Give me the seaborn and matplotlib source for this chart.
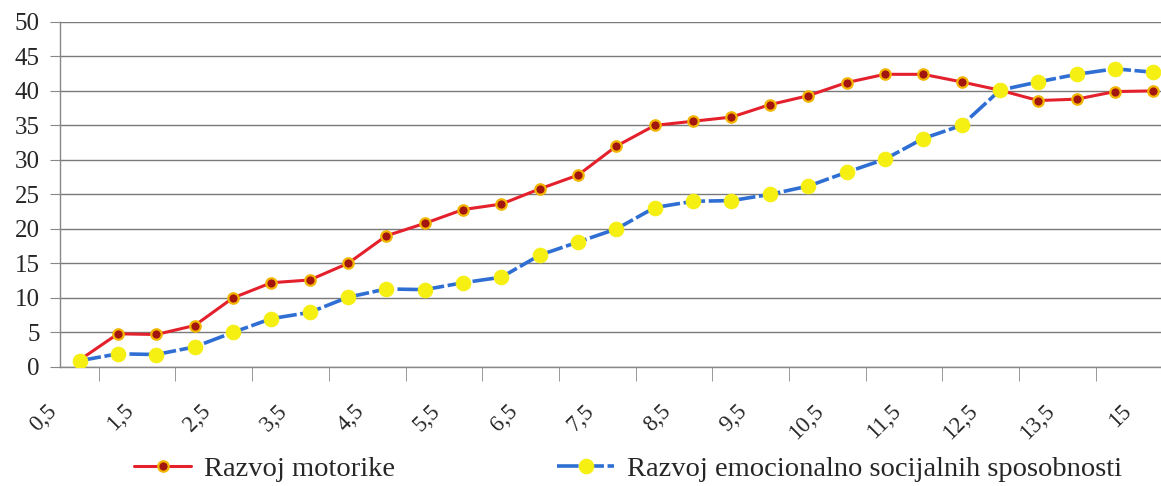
import numpy as np
import pandas as pd
import matplotlib
matplotlib.use("Agg")
import matplotlib.pyplot as plt
import matplotlib.transforms as mtransforms
import seaborn as sns

# Data (age categories, comma decimals as in original)
ages = ["0,5", "1", "1,5", "2", "2,5", "3", "3,5", "4", "4,5", "5",
        "5,5", "6", "6,5", "7", "7,5", "8", "8,5", "9", "9,5", "10",
        "10,5", "11", "11,5", "12", "12,5", "13", "13,5", "14", "15"]
motorika = [1.0, 4.8, 4.7, 6.0, 10.0, 12.2, 12.6, 15.0, 19.0, 20.8,
            22.8, 23.6, 25.8, 27.8, 32.0, 35.0, 35.6, 36.2, 38.0, 39.3,
            41.2, 42.4, 42.4, 41.3, 40.1, 38.6, 38.8, 39.9, 40.0]
emocije = [0.9, 1.9, 1.8, 2.9, 5.0, 7.0, 7.9, 10.1, 11.3, 11.2,
           12.2, 13.0, 16.2, 18.1, 20.0, 23.1, 24.0, 24.1, 25.0, 26.2,
           28.2, 30.1, 33.1, 35.0, 40.1, 41.3, 42.4, 43.2, 42.7]
series_names = ["Razvoj motorike", "Razvoj emocionalno socijalnih sposobnosti"]

df = pd.DataFrame({"pos": np.arange(len(ages)), "age": ages,
                   "motorika": motorika, "emocije": emocije})

sns.set_style("white")
plt.rcParams["font.family"] = ["Liberation Serif", "DejaVu Serif"]

fig = plt.figure(figsize=(11.61, 4.86), dpi=100)
ax = fig.add_axes([0.052, 0.245, 0.948, 0.71])

sns.lineplot(data=df, x="pos", y="motorika", ax=ax, color="#e3202b", lw=2.2,
             marker="o", markersize=7.5, markerfacecolor="#a3160f",
             markeredgecolor="#f2b600", markeredgewidth=1.6,
             label=series_names[0], zorder=3)
sns.lineplot(data=df, x="pos", y="emocije", ax=ax, color="#2f6fd4", lw=2.6,
             linestyle=(0, (6, 1)), marker="o", markersize=10.5,
             markerfacecolor="#f6ef12", markeredgecolor="#f6ef12",
             label=series_names[1], zorder=4)

# y axis
ax.set_ylim(0, 50)
ax.set_yticks(range(0, 51, 5))
ax.yaxis.grid(True, color="#7a7a7a", lw=1.0)
ax.set_axisbelow(True)
ax.tick_params(axis="y", labelsize=18, length=7, color="#888888",
               direction="out", left=True, pad=8)

# x axis: category boundaries get tick marks, labels every second category
ax.set_xlim(-0.4, 28.2)
pos = df["pos"].to_numpy()
ax.set_xticks(pos[1:] - 0.5, minor=True)
ax.set_xticks(pos[::2] - 0.5)
ax.set_xticklabels(df["age"].iloc[::2], rotation=45, ha="right",
                   rotation_mode="anchor", fontsize=16.5)
ax.tick_params(axis="x", which="major", length=0, pad=24)
ax.tick_params(axis="x", which="minor", length=10, color="#888888",
               direction="out", bottom=True)
shift = mtransforms.ScaledTranslation(-10 / 72, 0, fig.dpi_scale_trans)
for lbl in ax.get_xticklabels():
    lbl.set_transform(lbl.get_transform() + shift)
ax.set_xlabel("")
ax.set_ylabel("")

for side in ["top", "right"]:
    ax.spines[side].set_visible(False)
for side in ["left", "bottom"]:
    ax.spines[side].set_color("#888888")
    ax.spines[side].set_linewidth(1.0)

ax.legend_.remove()
handles, labels = ax.get_legend_handles_labels()
fig.legend(handles, labels, loc="center", bbox_to_anchor=(0.541, 0.035),
           ncol=2, frameon=False, fontsize=20.5, handlelength=2.0,
           columnspacing=5.7, handletextpad=0.45, borderpad=0.1)

fig.savefig("out.png", dpi=100, facecolor="white")
